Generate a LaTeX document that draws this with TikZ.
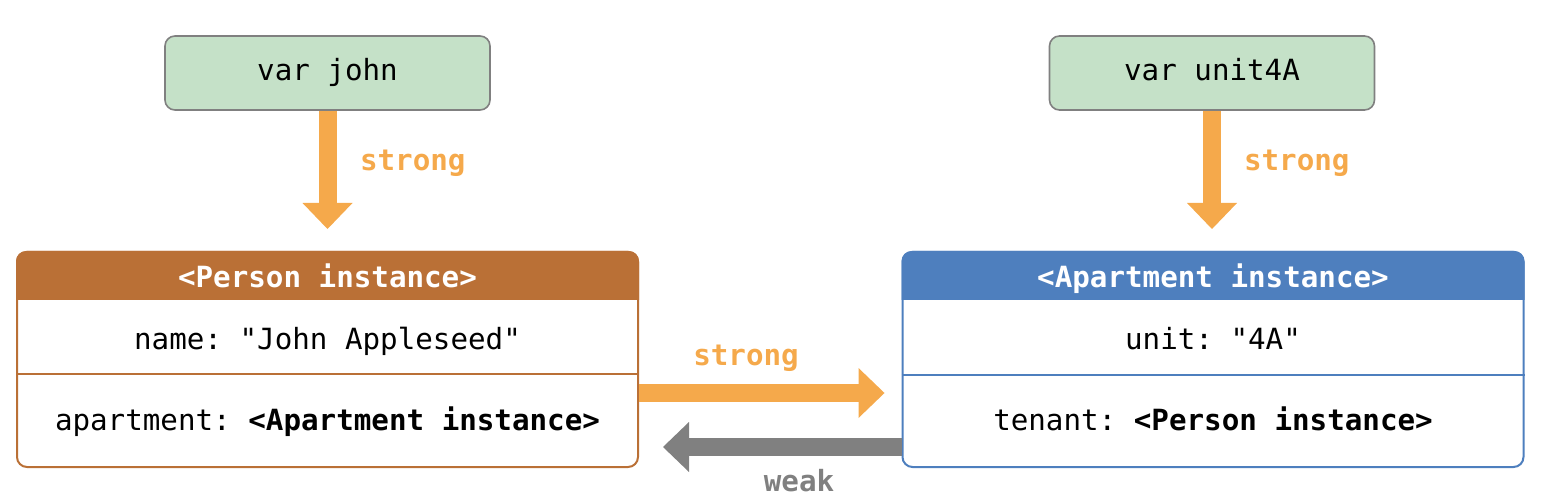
\documentclass[tikz,border=0pt]{standalone}
\usepackage{fontspec}
\setmonofont{DejaVu Sans Mono}
\usepackage{xcolor,tikz}
\usetikzlibrary{arrows.meta,positioning,calc}
\definecolor{varfill}{HTML}{C5E1C8}
\definecolor{vardraw}{HTML}{808080}
\definecolor{strongc}{HTML}{F5A94B}
\definecolor{weakc}{HTML}{808080}
\definecolor{personc}{HTML}{BA7036}
\definecolor{aptc}{HTML}{4E7FBE}

\begin{document}
\begin{tikzpicture}[x=0.5pt,y=-0.5pt,font=\ttfamily\fontsize{14.6}{17}\selectfont,
  every node/.style={text height=0.72em,text depth=0.22em},
  var/.style={draw=vardraw,fill=varfill,line width=0.8pt,rounded corners=5pt,minimum width=162.5pt,minimum height=37pt},
  obj/.style={draw=#1,line width=1pt,rounded corners=5pt,minimum width=310.5pt,minimum height=107.5pt},
  head/.style={text=white,font=\ttfamily\bfseries\fontsize{14.6}{17}\selectfont},
  lbl/.style={text=#1,font=\ttfamily\bfseries\fontsize{14.6}{17}\selectfont},
  arr/.style={draw=#1,line width=9pt,-{Triangle[length=13pt,width=25pt,line width=0pt]}}]
\useasboundingbox (0,0) rectangle (1558,502);
% variables
\node[var] (john) at (327.5,73) {};
\node[var] (unit) at (1212,73) {};
\node (johntxt) at (327.5,76) {var john};
\node (unittxt) at (1212,76) {var unit4A};
% instances
\node[obj=personc] (person) at (327.5,359.5) {};
\node[obj=aptc] (apt) at (1213,359.5) {};
\fill[personc] ([yshift=-24.5pt]person.north west) [rounded corners=5pt] -- (person.north west) -- (person.north east) [sharp corners] -- ([yshift=-24.5pt]person.north east) -- cycle;
\fill[aptc] ([yshift=-24.5pt]apt.north west) [rounded corners=5pt] -- (apt.north west) -- (apt.north east) [sharp corners] -- ([yshift=-24.5pt]apt.north east) -- cycle;
\draw[personc,line width=0.6pt] ([yshift=-61.5pt]person.north west) -- ([yshift=-61.5pt]person.north east);
\draw[aptc,line width=0.6pt] ([yshift=-62pt]apt.north west) -- ([yshift=-62pt]apt.north east);
\node[head] (personhd) at (327.5,283) {<Person instance>};
\node[head] (apthd) at (1213,283) {<Apartment instance>};
\node (pname) at (327.5,345) {name: "John Appleseed"};
\node (papt) at (327.5,425) {apartment: \textbf{<Apartment instance>}};
\node (aunit) at (1213,345) {unit: "4A"};
\node (aten) at (1213,425) {tenant: \textbf{<Person instance>}};
% references
\draw[arr=strongc,shorten >=11pt] (john) -- (person);
\draw[arr=strongc,shorten >=11pt] (unit) -- (unit |- apt.north);
\draw[arr=strongc,shorten >=8.5pt] ([yshift=-16.75pt]person.east) -- ([yshift=-16.75pt]apt.west);
\draw[arr=weakc,shorten >=12pt] ([yshift=-43.75pt]apt.west) -- ([yshift=-43.75pt]person.east);
\node[lbl=strongc,anchor=west] (s1) at (353,166) {strong};
\node[lbl=strongc,anchor=west] (s2) at (1237,166) {strong};
\node[lbl=strongc] (s3) at (746,360) {strong};
\node[lbl=weakc] (w1) at (799,486) {weak};
\end{tikzpicture}
\end{document}
